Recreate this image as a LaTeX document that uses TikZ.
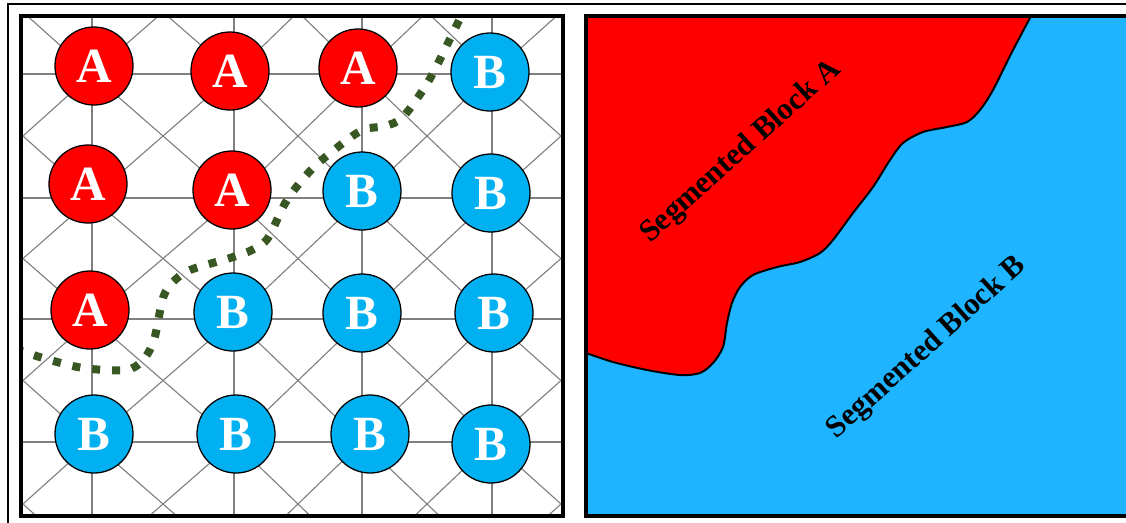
\documentclass[tikz,border=0pt]{standalone}
\usepackage{fontspec}
\setmainfont{Liberation Serif}
\usepackage{tikz}

\definecolor{cellred}{RGB}{255,0,0}
\definecolor{cellblue}{RGB}{0,176,240}
\definecolor{blockblue}{RGB}{30,180,255}
\definecolor{cutgreen}{RGB}{56,87,35}

\begin{document}
\begin{tikzpicture}[x=0.025cm, y=-0.025cm,
  mesh/.style={black!50, line width=0.8pt},
  cell/.style={circle, draw=black, line width=0.9pt, minimum size=1.95cm, inner sep=0pt,
    text=white, font=\fontsize{35}{35}\selectfont\bfseries},
  panel/.style={draw=black, line width=2.2pt},
  cut/.style={cutgreen, line width=5.7pt, dash pattern=on 5.7pt off 8.5pt},
  blocklabel/.style={rotate=42, font=\fontsize{22}{24}\selectfont\bfseries}]

\useasboundingbox (0,0) rectangle (1126,522);

% Outer frame
\draw[line width=0.8pt] (8,4) rectangle (1140,540);

% Mesh of the left panel
\begin{scope}
  \clip (21,16) rectangle (563,516);
  \foreach \a/\x in {0/-46,1/92,2/234,3/362,4/492,5/630}
    \foreach \b/\y in {0/-50,1/74,2/198,3/319,4/442,5/566}
      \coordinate (m\a\b) at (\x,\y);
  \foreach \a/\aa in {0/1,1/2,2/3,3/4,4/5}
    \foreach \b in {0,1,2,3,4,5} {
      \draw[mesh] (m\a\b) -- (m\aa\b);
      \draw[mesh] (m\b\a) -- (m\b\aa);
    }
  \foreach \a/\aa in {0/1,1/2,2/3,3/4,4/5}
    \foreach \b/\bb in {0/1,1/2,2/3,3/4,4/5} {
      \draw[mesh] (m\a\b) -- (m\aa\bb);
      \draw[mesh] (m\aa\b) -- (m\a\bb);
    }
  % Cut between the two blocks
  \draw[cut] plot[smooth] coordinates {(15,349) (43,358) (83,368) (126,370) (143,360)
    (154,340) (163,298) (173,282) (190,270) (230,258) (252,250) (268,238) (287,200)
    (313,168) (347,140) (365,129) (385,126) (403,117) (428,82) (448,43) (465,8)};
\end{scope}

% Pixels
\foreach \x/\y/\l/\c/\n in {
  94/66/A/cellred/11, 230/71/A/cellred/12, 358/68/A/cellred/13, 490/72/B/cellblue/14,
  88/184/A/cellred/21, 232/190/A/cellred/22, 362/191/B/cellblue/23, 491/193/B/cellblue/24,
  90/310/A/cellred/31, 233/312/B/cellblue/32, 362/313/B/cellblue/33, 494/313/B/cellblue/34,
  94/434/B/cellblue/41, 236/434/B/cellblue/42, 370/434/B/cellblue/43, 491/444/B/cellblue/44}
  \node[cell, fill=\c] (c\n) at (\x,\y) {\l};

\draw[panel] (21,16) rectangle (563,516);

% Segmented blocks
\fill[blockblue] (586,16) rectangle (1140,516);
\filldraw[fill=cellred, draw=black, line width=1.4pt] (586,16) -- plot[smooth] coordinates {
  (1031,16) (1012,52) (993,90) (980,110) (967,122) (947,127) (923,132) (903,143)
  (890,160) (873,187) (853,213) (833,240) (820,253) (800,262) (777,267) (753,275)
  (740,287) (732,303) (727,323) (723,347) (713,363) (700,373) (680,375) (647,370)
  (613,362) (586,353)} -- cycle;
\node[blocklabel] (labelA) at (741,152) {Segmented Block A};
\node[blocklabel] (labelB) at (927,348) {Segmented Block B};

\draw[panel] (586,16) rectangle (1140,516);

\end{tikzpicture}
\end{document}
